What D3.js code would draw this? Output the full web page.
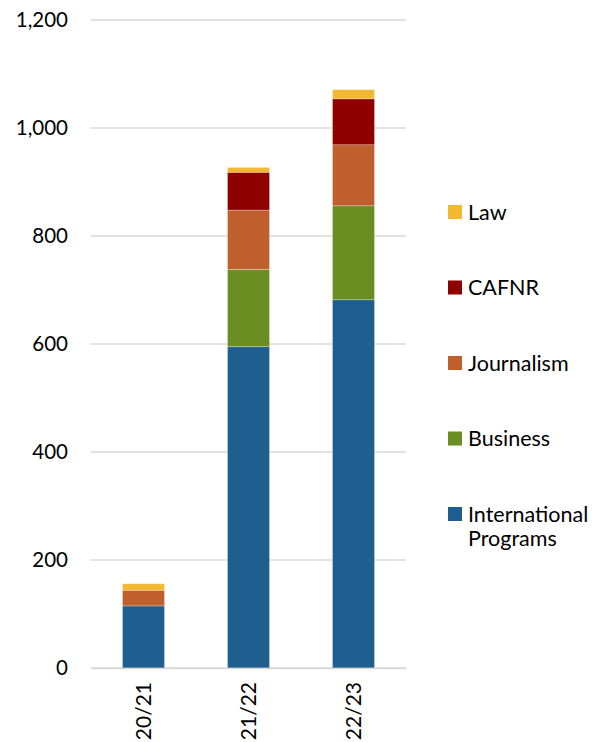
<!DOCTYPE html>
<html lang="en">
<head>
    <meta charset="UTF-8">
    <title>Stacked enrolment chart</title>
    <script src="https://d3js.org/d3.v7.min.js"></script>
    <style>
        body { margin: 0; background: #fff; }
        text { font-family: Lato, "Open Sans", sans-serif; fill: #000; }
    </style>
</head>
<body>
    <script>
        // Data
        const years = ["20/21", "21/22", "22/23"];
        const series = ["International Programs", "Business", "Journalism", "CAFNR", "Law"];
        const international = [115, 595, 682];
        const business = [0, 143, 174];
        const journalism = [29, 110, 113];
        const cafnr = [0, 70, 85];
        const law = [12, 9, 17];
        const yTicks = [0, 200, 400, 600, 800, 1000, 1200];
        const colors = ["#1f5f8f", "#6a8e22", "#bf5f2e", "#8f0000", "#f2b830"];

        const rows = years.map((yr, i) => ({
            year: yr,
            "International Programs": international[i],
            "Business": business[i],
            "Journalism": journalism[i],
            "CAFNR": cafnr[i],
            "Law": law[i]
        }));

        const W = 607, H = 742;
        const svg = d3.select("body").append("svg")
            .attr("width", W)
            .attr("height", H);

        const x = d3.scaleBand()
            .domain(years)
            .range([91, 406])
            .paddingInner(0.6)
            .paddingOuter(0.3);

        const y = d3.scaleLinear()
            .domain([0, 1200])
            .range([668, 20]);

        const color = d3.scaleOrdinal().domain(series).range(colors);

        // Gridlines
        svg.append("g")
            .selectAll("line")
            .data(yTicks)
            .join("line")
            .attr("x1", 91)
            .attr("x2", 406)
            .attr("y1", d => y(d))
            .attr("y2", d => y(d))
            .attr("stroke", "#d9d9d9")
            .attr("stroke-width", 1.5);

        // Y axis labels
        const yAxis = svg.append("g")
            .attr("transform", "translate(91,0)")
            .call(d3.axisLeft(y).tickValues(yTicks).tickSize(0).tickPadding(23)
                .tickFormat(d3.format(",")));
        yAxis.select(".domain").remove();
        yAxis.selectAll("text")
            .style("font-size", "20.5px")
            .style("font-family", "Lato, sans-serif")
            .attr("fill", "#000");

        // Stacked bars
        const stacked = d3.stack().keys(series)(rows);
        svg.append("g")
            .selectAll("g")
            .data(stacked)
            .join("g")
            .attr("fill", d => color(d.key))
            .selectAll("rect")
            .data(d => d)
            .join("rect")
            .attr("x", d => x(d.data.year))
            .attr("y", d => y(d[1]))
            .attr("width", x.bandwidth())
            .attr("height", d => y(d[0]) - y(d[1]))
            .attr("stroke", "#fff")
            .attr("stroke-opacity", 0.35)
            .attr("stroke-width", 0.8);

        // X axis
        const xAxis = svg.append("g")
            .attr("transform", "translate(0,668)")
            .call(d3.axisBottom(x).tickSize(0).tickPadding(0));
        xAxis.select(".domain")
            .attr("stroke", "#d9d9d9")
            .attr("stroke-width", 1.5);
        xAxis.selectAll("text")
            .attr("transform", "rotate(-90)")
            .attr("x", -14)
            .attr("y", 0)
            .attr("dy", "0.35em")
            .style("text-anchor", "end")
            .style("font-size", "21px")
            .style("font-family", "Lato, sans-serif")
            .attr("fill", "#000");

        // Legend (top to bottom: Law ... International Programs)
        const legendItems = series.slice().reverse();
        const legend = svg.append("g")
            .selectAll("g")
            .data(legendItems)
            .join("g")
            .attr("transform", (d, i) => `translate(448,${212 + i * 75.5})`);

        legend.append("rect")
            .attr("x", 0)
            .attr("y", -7)
            .attr("width", 14)
            .attr("height", 14)
            .attr("fill", d => color(d));

        legend.append("text")
            .attr("x", 20)
            .attr("y", 0)
            .style("font-size", "21.5px")
            .each(function (d) {
                const parts = d === "International Programs" ? ["International", "Programs"] : [d];
                d3.select(this).selectAll("tspan")
                    .data(parts)
                    .join("tspan")
                    .attr("x", 20)
                    .attr("dy", (p, i) => i === 0 ? "0.35em" : "1.12em")
                    .text(p => p);
            });
    </script>
</body>
</html>
